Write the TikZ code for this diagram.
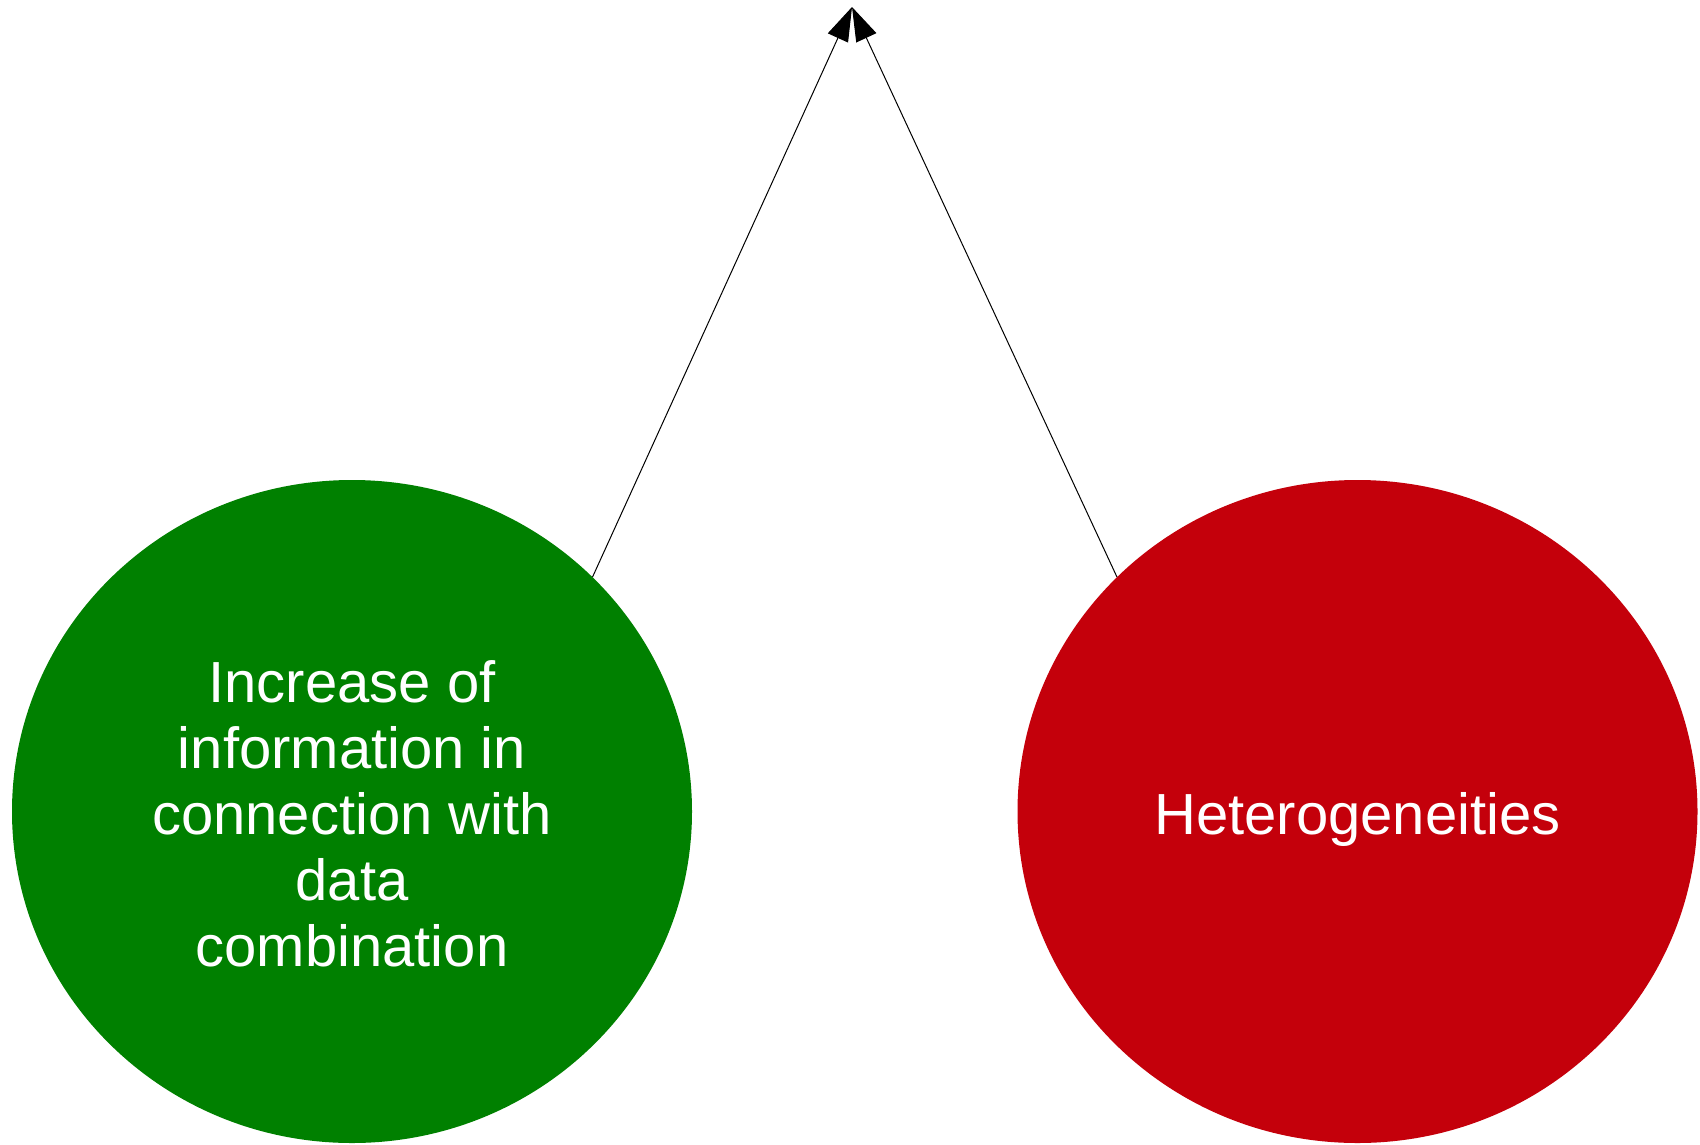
\documentclass[tikz,border=0pt]{standalone}
\usepackage{fontspec}
\setmainfont{Liberation Sans}
\usetikzlibrary{arrows.meta,shapes.geometric}
\definecolor{goodgreen}{RGB}{0,128,0}
\definecolor{badred}{RGB}{196,0,11}
\begin{document}
\begin{tikzpicture}[x=1pt,y=-1pt]
\tikzset{
  blob/.style={ellipse, minimum width=680pt, minimum height=663pt, inner sep=0pt},
  blobtext/.style={text=white, align=center, font=\fontsize{58}{66}\selectfont, inner sep=0pt},
  link/.style={draw=black, line width=1pt, -{Triangle[length=34pt,width=22pt]}}
}
\useasboundingbox (0,0) rectangle (1700,1144);
\node[blob, fill=goodgreen] (g) at (352,811.5) {};
\node[blob, fill=badred] (r) at (1357.5,811.5) {};
\node[blobtext] (gt) at (352,814) {Increase of\\information in\\connection with\\data\\combination};
\node[blobtext] (rt) at (1357.5,819) {Heterogeneities};
\coordinate (top) at (852,7);
\draw[link] (g.north east) -- (top);
\draw[link] (r.north west) -- (top);
\end{tikzpicture}
\end{document}
